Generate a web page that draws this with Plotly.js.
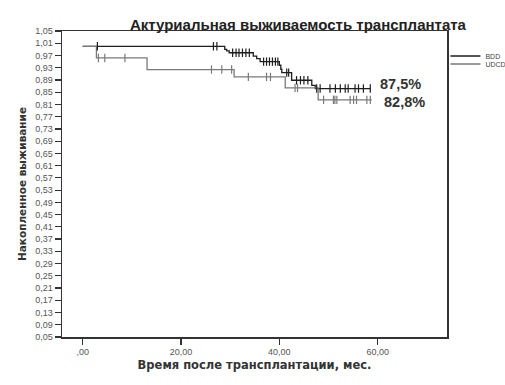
<!DOCTYPE html>
<html>
<head>
<meta charset="utf-8">
<script src="https://cdn.plot.ly/plotly-3.0.1.min.js"></script>
<style>html,body{margin:0;padding:0;background:#fff;}#chart{width:505px;height:385px;}</style>
</head>
<body>
<div id="chart"></div>
<script>
// ---- data ----
const bddEventT = [0, 28.9, 29.3, 29.8, 34.7, 35.4, 36.1, 40.0, 40.3, 40.5, 42.5, 46.6, 47.3];
const bddEventS = [1.0, 0.990, 0.985, 0.979, 0.968, 0.960, 0.950, 0.938, 0.925, 0.914, 0.889, 0.872, 0.862];
const bddEnd = 58.5;
const bddCensor = [3.0, 26.6, 27.3, 30.5, 31.2, 31.8, 32.5, 33.2, 33.9, 36.8, 37.4, 38.0, 38.6, 39.2, 39.7,
  41.5, 41.9, 43.5, 44.3, 45.0, 45.8, 47.6, 48.3, 50.3, 51.4, 52.4, 53.4, 54.0, 55.4, 56.1, 57.1, 58.5];

const udcdEventT = [0, 2.8, 13.1, 30.8, 41.2, 47.9];
const udcdEventS = [1.0, 0.962, 0.924, 0.900, 0.864, 0.825];
const udcdEnd = 58.8;
const udcdCensor = [3.2, 4.5, 8.6, 26.2, 28.3, 30.3, 33.7, 37.4, 38.2, 43.2, 43.7, 49.0, 51.0, 51.3, 51.7,
  54.4, 55.1, 55.7, 57.8, 58.5];

const groupNames = ["BDD", "UDCD"];
const endLabels = ["87,5%", "82,8%"];
const endLabelY = [0.877, 0.818];
const endLabelX = [60.1, 60.8];

const yTickVals = [1.05,1.01,0.97,0.93,0.89,0.85,0.81,0.77,0.73,0.69,0.65,0.61,0.57,0.53,0.49,0.45,0.41,0.37,0.33,0.29,0.25,0.21,0.17,0.13,0.09,0.05];
const xTickVals = [0, 20, 40, 60];
const xTickText = [",00", "20,00", "40,00", "60,00"];

// ---- helpers ----
function survAt(ts, ss, t) {
  let s = ss[0];
  for (let i = 0; i < ts.length; i++) { if (ts[i] <= t) s = ss[i]; }
  return s;
}
function stepTrace(ts, ss, end, name, color, legendId) {
  return {
    x: ts.concat([end]), y: ss.concat([ss[ss.length - 1]]),
    type: "scatter", mode: "lines", line: {shape: "hv", color: color, width: 1.3},
    name: name, showlegend: true, legend: legendId, hoverinfo: "skip"
  };
}
function censorTrace(ts, ss, cs, color) {
  return {
    x: cs, y: cs.map(t => survAt(ts, ss, t)),
    type: "scatter", mode: "markers",
    marker: {symbol: "line-ns-open", size: 6, color: color, line: {color: color, width: 1.2}},
    showlegend: false, hoverinfo: "skip"
  };
}

const cBDD = "#1e1e1e", cUDCD = "#7a7a7a";
const data = [
  stepTrace(bddEventT, bddEventS, bddEnd, groupNames[0], cBDD, "legend"),
  stepTrace(udcdEventT, udcdEventS, udcdEnd, groupNames[1], cUDCD, "legend2"),
  censorTrace(bddEventT, bddEventS, bddCensor, cBDD),
  censorTrace(udcdEventT, udcdEventS, udcdCensor, cUDCD)
];

const font = "Liberation Sans, Arial, sans-serif";
const wide = "DejaVu Sans, Verdana, sans-serif";
const legendBase = {
  xref: "container", x: 0.882, xanchor: "left", yref: "container", yanchor: "middle",
  font: {family: font, size: 7, color: "#444"},
  bgcolor: "rgba(0,0,0,0)", itemwidth: 30
};
const layout = {
  width: 505, height: 385,
  margin: {l: 62, r: 58, t: 31, b: 48, autoexpand: false},
  paper_bgcolor: "#ffffff", plot_bgcolor: "#ffffff",
  separators: ",.",
  font: {family: font, color: "#333"},
  title: {
    text: "<b>Актуриальная выживаемость трансплантата</b>",
    font: {family: font, size: 15, color: "#222"},
    xref: "container", x: 0.59, xanchor: "center",
    yref: "container", y: 0.935, yanchor: "middle"
  },
  xaxis: {
    range: [-4.2, 74.1], showgrid: false, zeroline: false,
    tickvals: xTickVals, ticktext: xTickText,
    ticks: "outside", ticklen: 6, tickcolor: "#333", tickwidth: 1.2,
    tickfont: {family: font, size: 9, color: "#555"},
    showline: true, mirror: true, linecolor: "#333", linewidth: 1.5,
    title: {text: "<b>Время после трансплантации, мес.</b>", font: {family: wide, size: 11.5, color: "#333"}, standoff: 4}
  },
  yaxis: {
    range: [0.05, 1.05], showgrid: false, zeroline: false,
    tickvals: yTickVals, tickformat: ".2f",
    ticks: "outside", ticklen: 6, tickcolor: "#333", tickwidth: 1.2,
    tickfont: {family: font, size: 9, color: "#555"},
    showline: true, mirror: true, linecolor: "#333", linewidth: 1.5,
    title: {text: "<b>Накопленное выживание</b>", font: {family: wide, size: 10.5, color: "#333"}, standoff: 6}
  },
  legend: Object.assign({}, legendBase, {y: 1 - 56 / 385}),
  legend2: Object.assign({}, legendBase, {y: 1 - 64 / 385}),
  annotations: endLabels.map((t, i) => ({
    text: "<b>" + t + "</b>", x: endLabelX[i], y: endLabelY[i], xref: "x", yref: "y",
    xanchor: "left", yanchor: "middle", showarrow: false,
    font: {family: font, size: 14.5, color: "#333"}
  })),
  showlegend: true
};

Plotly.newPlot("chart", data, layout, {displayModeBar: false, staticPlot: true});
</script>
</body>
</html>
